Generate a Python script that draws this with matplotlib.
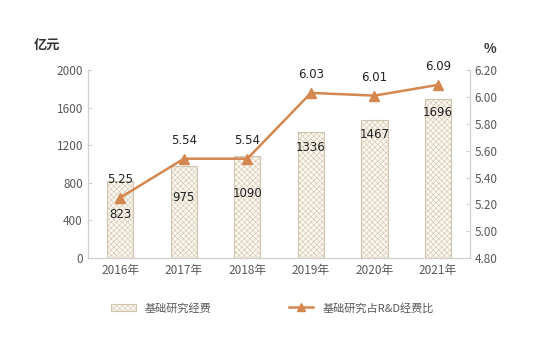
import matplotlib.pyplot as plt
import numpy as np
from matplotlib.patches import Patch
from matplotlib.lines import Line2D

plt.rcParams['font.family'] = ['Noto Sans CJK SC', 'DejaVu Sans']
plt.rcParams['hatch.linewidth'] = 0.4

years = ['2016年', '2017年', '2018年', '2019年', '2020年', '2021年']
funding = [823, 975, 1090, 1336, 1467, 1696]      # 亿元
share = [5.25, 5.54, 5.54, 6.03, 6.01, 6.09]      # %
# where the funding numbers sit (in 亿元 units)
funding_label_y = [460, 640, 690, 1180, 1320, 1550]

line_c = '#d4874e'
grey = '#595959'
num_font = ['DejaVu Sans']

fig = plt.figure(figsize=(5.56, 3.54), dpi=100)
ax = fig.add_axes([0.158, 0.271, 0.687, 0.531])
x = np.arange(len(years))

ax.bar(x, funding, width=0.41, color='#fbf8f0', edgecolor='#cfc4ae',
       hatch='xxxxxx', linewidth=0.8, zorder=2)
for xi, v, ly in zip(x, funding, funding_label_y):
    ax.text(xi, ly, str(v), ha='center', va='center', fontsize=8.5,
            color='#222222', family=num_font, zorder=5)

ax.set_ylim(0, 2000)
ax.set_yticks(range(0, 2001, 400))
ax.set_xlim(-0.51, 5.5)
ax.set_xticks(x)
ax.set_xticklabels(years)

ax2 = ax.twinx()
ax2.plot(x, share, color=line_c, lw=1.8, marker='^', ms=7, zorder=4)
for xi, v in zip(x, share):
    ax2.annotate(f'{v:.2f}', (xi, v), xytext=(0, 13), textcoords='offset points',
                 ha='center', va='center', fontsize=8.5, color='#222222', family=num_font)
ax2.set_ylim(4.8, 6.2)
ticks2 = np.arange(4.8, 6.21, 0.2)
ax2.set_yticks(ticks2)
ax2.set_yticklabels([f'{t:.2f}' for t in ticks2])

for a in (ax, ax2):
    a.spines['top'].set_visible(False)
    for s in a.spines.values():
        s.set_color('#d0d0d0')
    a.tick_params(colors='#d0d0d0', labelcolor=grey, labelsize=8.5, direction='in', length=3)
ax.tick_params(axis='x', length=0, pad=4)
ax2.set_zorder(ax.get_zorder() + 1)
ax2.patch.set_visible(False)

fig.text(0.085, 0.873, '亿元', fontsize=9.5, fontweight='bold', color='#333333',
         ha='center', va='center')
fig.text(0.882, 0.862, '%', fontsize=9.5, fontweight='bold', color='#333333',
         ha='center', va='center')

h1 = Patch(facecolor='#fbf8f0', edgecolor='#cfc4ae', hatch='xxxxxx', linewidth=0.8)
h2 = Line2D([], [], color=line_c, lw=1.8, marker='^', ms=6)
fig.legend([h1, h2], ['基础研究经费', '基础研究占R&D经费比'], loc='center',
           bbox_to_anchor=(0.49, 0.13), ncol=2, frameon=False, fontsize=8,
           labelcolor=grey, columnspacing=7, handlelength=2.2)

fig.savefig('out.png', dpi=100)
